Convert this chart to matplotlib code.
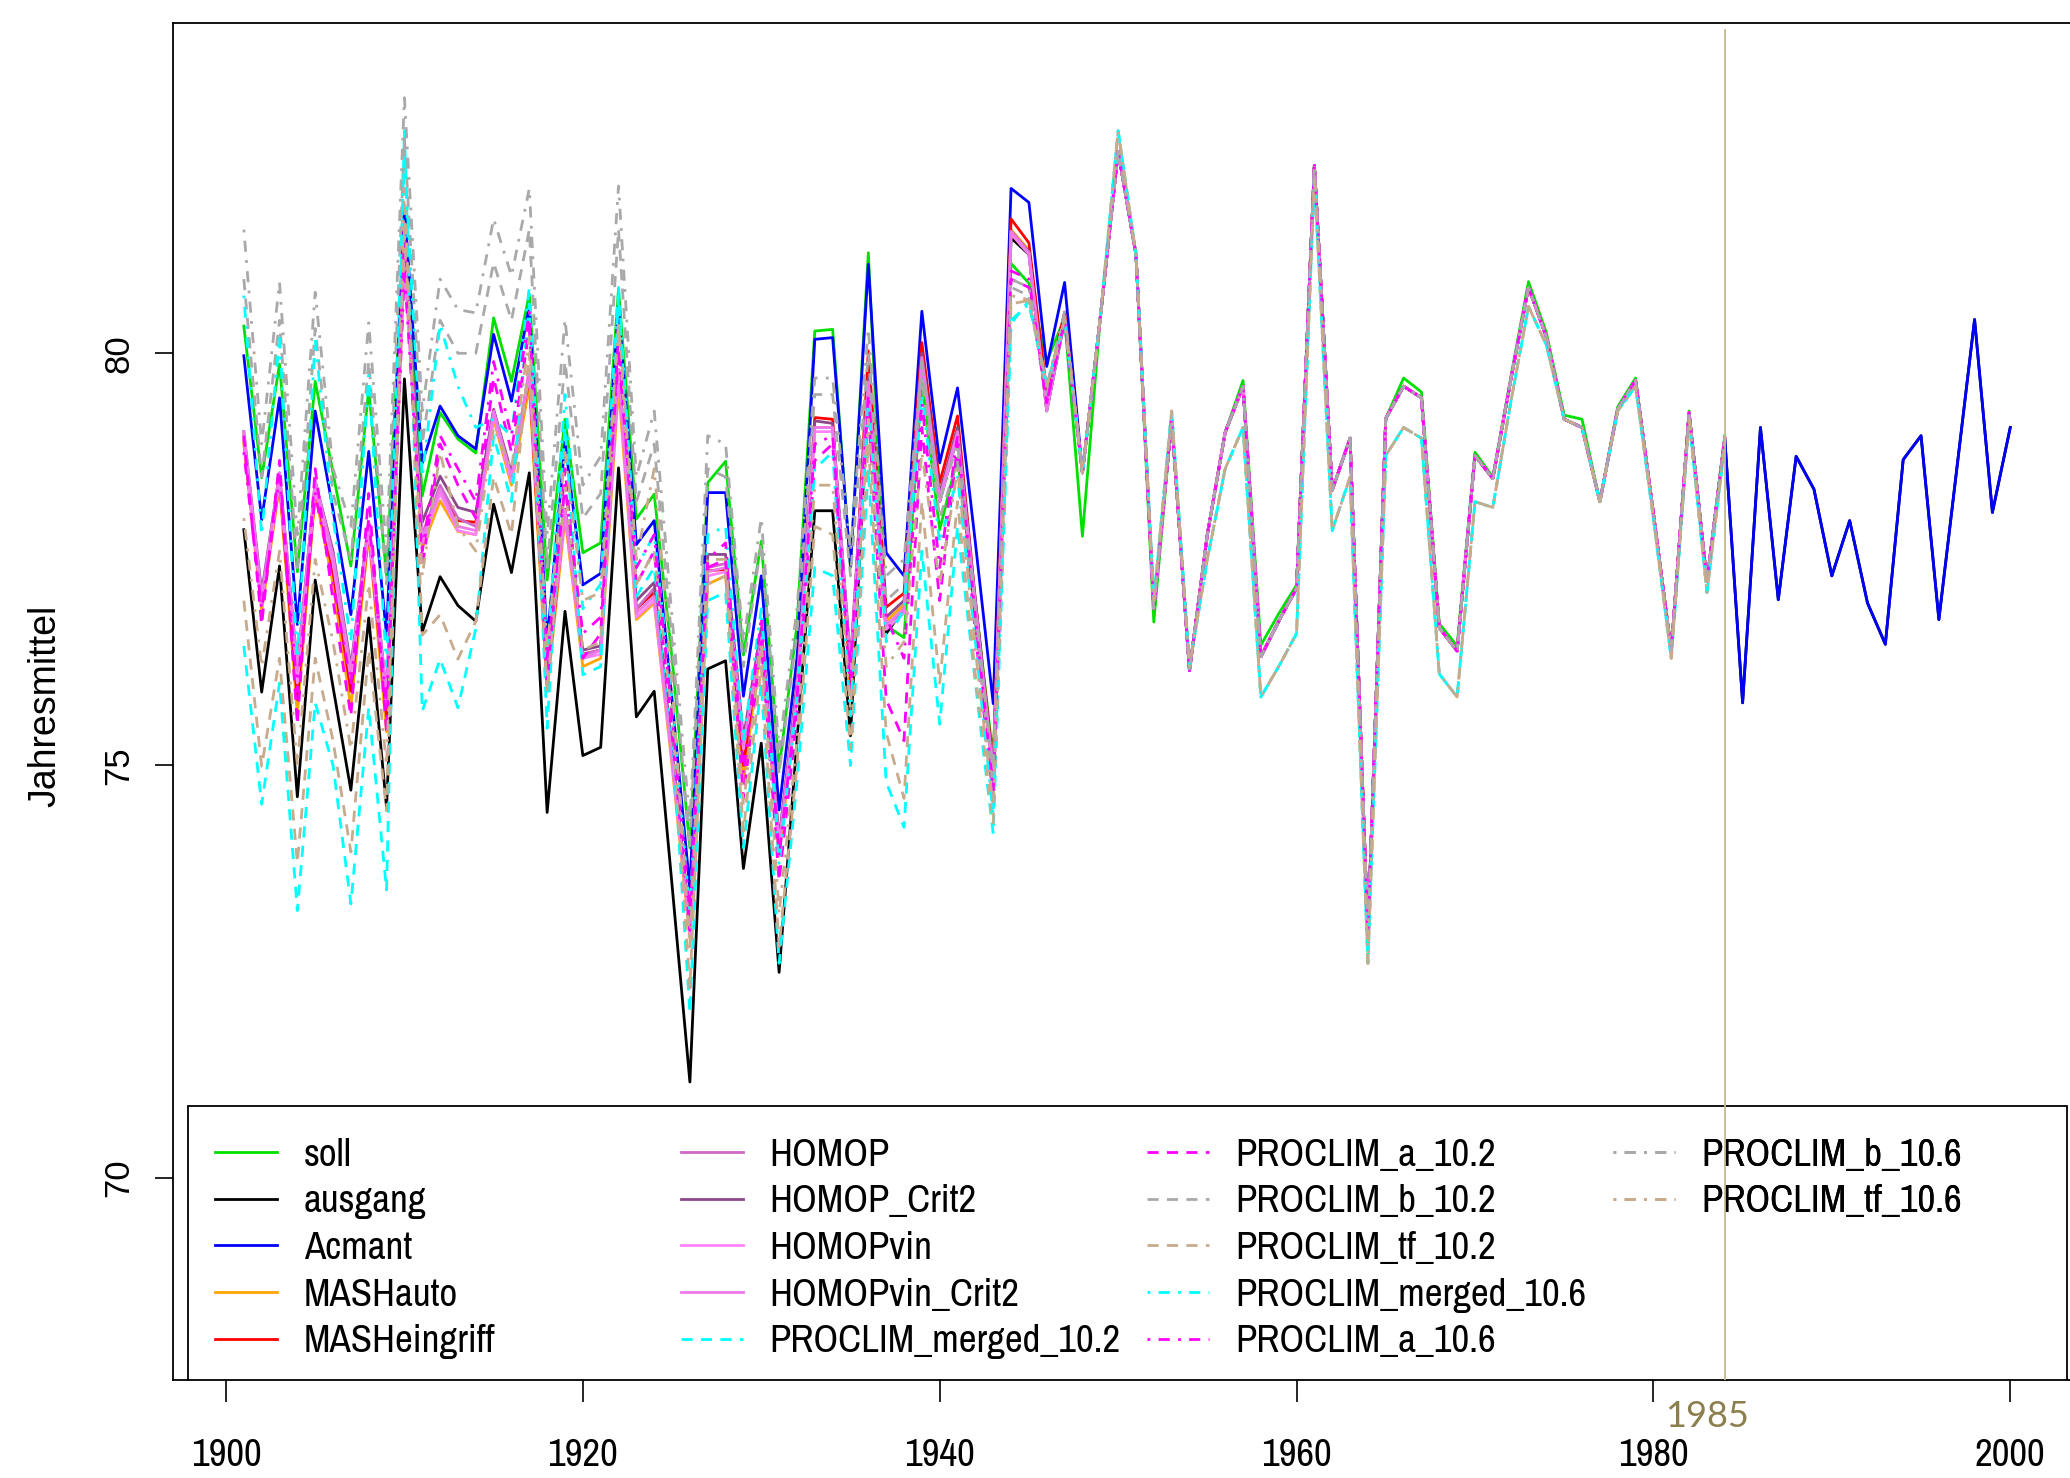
import matplotlib
matplotlib.use("Agg")
import matplotlib.pyplot as plt
from matplotlib.patches import Rectangle
from matplotlib.transforms import blended_transform_factory
from matplotlib import font_manager

# ------------------------------------------------------------------
# Jahresmittel 1901-2000: Ausgangsreihe, Sollreihe and homogenised series
# ------------------------------------------------------------------
years_early = list(range(1901, 1948))   # period where the methods disagree
years_late = list(range(1948, 1985))    # period where they nearly coincide
years_tail = list(range(1985, 2001))    # only ausgang / Acmant continue

soll_early = [80.33, 78.49, 79.87, 77.35, 79.66, 78.55, 77.42, 79.56, 77.30, 81.70,
              78.27, 79.28, 78.96, 78.79, 80.43, 79.66, 80.72, 77.25, 79.20, 77.58,
              77.70, 80.78, 77.99, 78.29, 76.30, 74.00, 78.43, 78.69, 76.34, 77.72,
              74.96, 76.70, 80.27, 80.29, 77.40, 81.22, 76.70, 76.55, 79.64, 77.86,
              78.73, 77.00, 75.08, 81.09, 80.85, 79.90, 80.43]
ausgang_early = [77.86, 75.89, 77.42, 74.62, 77.25, 75.95, 74.70, 76.79, 74.49, 79.69,
                 76.62, 77.29, 76.94, 76.75, 78.17, 77.34, 78.55, 74.43, 76.87, 75.12,
                 75.22, 78.61, 75.59, 75.90, 73.55, 71.16, 76.17, 76.27, 73.75, 75.27,
                 72.49, 75.30, 78.09, 78.09, 75.36, 79.60, 76.60, 76.90, 79.90, 78.20,
                 79.00, 76.80, 74.90, 81.40, 81.20, 79.30, 80.40]
acmant_early = [79.97, 77.98, 79.46, 76.71, 79.30, 78.10, 76.83, 78.81, 76.58, 81.79,
                78.67, 79.36, 79.00, 78.84, 80.23, 79.42, 80.57, 76.50, 78.92, 77.19,
                77.33, 80.57, 77.68, 77.97, 75.80, 73.50, 78.31, 78.31, 75.84, 77.30,
                74.46, 76.30, 80.17, 80.19, 77.42, 81.08, 77.58, 77.30, 80.51, 78.67,
                79.58, 77.70, 75.75, 82.00, 81.83, 79.84, 80.86]
mashauto_early = [78.90, 76.87, 78.40, 75.62, 78.30, 77.20, 75.70, 77.80, 75.41, 81.20,
                  77.64, 78.21, 77.84, 77.80, 79.20, 78.40, 79.60, 75.90, 78.00, 76.20,
                  76.30, 79.60, 76.77, 76.97, 75.00, 72.90, 77.20, 77.30, 74.80, 76.50,
                  73.90, 75.80, 79.10, 79.10, 75.90, 79.90, 76.75, 76.95, 80.00, 78.30,
                  79.10, 76.90, 74.90, 81.50, 81.25, 79.40, 80.45]
masheingriff_early = [78.95, 76.95, 78.45, 75.80, 78.35, 77.35, 75.90, 77.85, 75.60, 81.40,
                      77.70, 78.33, 77.97, 77.95, 79.30, 78.50, 79.72, 76.00, 78.10, 76.35,
                      76.40, 79.80, 76.90, 77.10, 75.10, 73.00, 77.36, 77.38, 75.00, 76.60,
                      74.00, 75.90, 79.22, 79.20, 76.00, 80.03, 76.92, 77.09, 80.13, 78.43,
                      79.24, 77.00, 75.00, 81.63, 81.34, 79.53, 80.50]
homop_early = [79.00, 77.00, 78.50, 76.10, 78.40, 77.50, 76.10, 77.90, 75.80, 81.20,
               77.80, 78.40, 78.00, 77.90, 79.30, 78.50, 79.80, 76.20, 78.10, 76.35,
               76.40, 79.80, 76.90, 77.15, 75.10, 73.00, 77.40, 77.45, 75.30, 76.60,
               74.10, 75.90, 79.10, 79.10, 76.20, 79.65, 76.70, 76.90, 79.95, 78.25,
               79.05, 76.95, 74.90, 81.48, 81.23, 79.32, 80.43]
homop_crit2_early = [79.05, 77.10, 78.55, 76.20, 78.45, 77.60, 76.20, 77.95, 75.85, 81.30,
                     77.95, 78.51, 78.13, 78.07, 79.32, 78.55, 79.75, 76.20, 78.11, 76.40,
                     76.45, 79.80, 77.00, 77.22, 75.20, 73.10, 77.56, 77.56, 75.33, 76.67,
                     74.10, 76.00, 79.18, 79.15, 76.25, 79.70, 76.80, 77.00, 80.00, 78.30,
                     79.10, 77.00, 74.95, 81.48, 81.23, 79.32, 80.43]
homopvin_early = [78.95, 76.95, 78.45, 76.00, 78.35, 77.45, 76.05, 77.85, 75.70, 81.10,
                  77.70, 78.30, 77.85, 77.80, 79.25, 78.45, 79.75, 76.10, 78.05, 76.30,
                  76.35, 79.75, 76.80, 77.00, 75.05, 72.95, 77.30, 77.35, 75.20, 76.50,
                  74.00, 75.85, 79.05, 79.05, 76.15, 79.60, 76.65, 76.85, 79.90, 78.20,
                  79.00, 76.90, 74.85, 81.45, 81.20, 79.30, 80.42]
homopvin_crit2_early = [79.05, 77.05, 78.55, 76.15, 78.45, 77.55, 76.15, 77.95, 75.85, 81.25,
                        77.75, 78.35, 77.90, 77.85, 79.30, 78.50, 79.80, 76.15, 78.10, 76.30,
                        76.40, 79.80, 76.85, 77.05, 75.10, 73.00, 77.35, 77.40, 75.25, 76.55,
                        74.05, 75.90, 79.10, 79.10, 76.20, 79.65, 76.70, 76.90, 79.95, 78.25,
                        79.05, 76.95, 74.90, 81.48, 81.22, 79.32, 80.43]
merged_102_early = [76.45, 74.53, 76.00, 73.24, 75.76, 75.00, 73.32, 75.70, 73.49, 82.70,
                    75.66, 76.29, 75.70, 76.66, 79.00, 78.20, 80.60, 75.45, 79.10, 76.10,
                    76.20, 80.70, 77.05, 77.40, 75.40, 72.00, 77.00, 77.10, 74.00, 76.00,
                    72.60, 74.80, 77.40, 77.30, 75.00, 78.60, 74.80, 74.25, 77.60, 75.50,
                    77.90, 76.00, 74.17, 80.36, 80.64, 79.60, 80.40]
a_102_early = [79.00, 76.71, 78.70, 75.50, 78.60, 77.00, 75.60, 78.30, 75.40, 81.60,
               77.40, 78.90, 78.40, 78.00, 79.70, 78.80, 80.30, 76.00, 78.60, 76.30,
               76.60, 80.20, 77.20, 77.60, 75.40, 73.00, 77.40, 77.50, 74.60, 76.50,
               73.60, 75.60, 78.70, 78.90, 75.90, 79.30, 75.80, 75.30, 79.10, 77.00,
               78.90, 76.60, 74.60, 80.90, 80.80, 79.40, 80.40]
b_102_early = [80.90, 78.50, 80.40, 77.40, 80.30, 78.30, 77.50, 79.90, 77.20, 82.60,
               78.90, 80.40, 80.00, 80.00, 81.10, 80.40, 81.50, 77.40, 79.90, 78.00,
               78.30, 81.50, 78.20, 78.90, 76.50, 74.00, 78.60, 78.50, 76.20, 77.70,
               74.90, 76.60, 79.50, 79.50, 77.30, 80.00, 77.00, 77.20, 79.70, 78.00,
               78.70, 76.70, 74.70, 80.80, 80.70, 79.50, 80.45]
tf_102_early = [77.00, 74.99, 76.30, 73.82, 76.30, 75.30, 73.95, 76.40, 74.45, 82.00,
                76.58, 76.83, 76.29, 76.75, 78.50, 77.80, 80.00, 75.90, 78.40, 76.40,
                76.50, 80.30, 77.20, 77.60, 75.60, 72.30, 77.20, 77.30, 74.20, 76.20,
                72.80, 75.00, 77.90, 77.80, 75.20, 78.90, 75.40, 74.60, 78.20, 76.00,
                78.20, 76.10, 74.30, 80.60, 80.64, 79.60, 80.40]
merged_106_early = [80.70, 77.80, 80.20, 76.30, 80.17, 78.00, 76.50, 79.73, 76.20, 82.40,
                    78.50, 80.35, 79.60, 79.10, 79.20, 79.00, 80.80, 76.30, 79.50, 76.90,
                    77.20, 80.80, 77.40, 77.80, 75.80, 73.20, 77.80, 77.90, 75.30, 76.90,
                    73.80, 75.80, 78.60, 78.80, 75.60, 79.40, 76.50, 76.90, 79.50, 77.70,
                    78.50, 76.50, 74.40, 80.40, 80.60, 79.60, 80.40]
a_106_early = [78.80, 76.90, 78.50, 75.90, 78.30, 77.20, 76.00, 78.00, 75.70, 81.00,
               77.60, 79.00, 78.60, 78.20, 79.90, 79.00, 80.50, 76.30, 78.40, 76.60,
               76.80, 80.00, 77.40, 77.80, 75.60, 73.20, 77.50, 77.70, 74.90, 76.80,
               73.90, 75.80, 78.90, 79.00, 76.20, 79.50, 76.80, 76.30, 79.40, 77.40,
               79.00, 76.80, 74.70, 81.00, 80.90, 79.40, 80.40]
b_106_early = [81.50, 78.90, 80.86, 77.80, 80.74, 78.60, 77.90, 80.37, 77.60, 83.10,
               79.30, 80.90, 80.53, 80.49, 81.63, 80.94, 82.00, 77.80, 80.41, 78.40,
               78.75, 82.03, 78.50, 79.30, 76.80, 74.30, 79.00, 78.90, 76.50, 78.00,
               75.20, 76.90, 79.70, 79.70, 77.60, 80.30, 77.30, 77.50, 79.90, 78.20,
               78.90, 76.90, 74.90, 80.90, 80.80, 79.60, 80.50]
tf_106_early = [78.00, 76.20, 77.60, 75.00, 77.50, 76.50, 75.20, 77.20, 75.00, 81.50,
                77.30, 78.80, 77.90, 77.60, 79.10, 78.60, 80.20, 76.40, 78.80, 77.00,
                77.10, 80.40, 77.50, 78.60, 76.00, 72.80, 77.50, 77.50, 74.50, 76.50,
                73.20, 75.30, 78.40, 78.40, 75.70, 79.20, 76.20, 76.50, 78.80, 77.20,
                78.60, 76.40, 74.50, 80.70, 80.65, 79.60, 80.40]

late_main = [78.55, 80.43, 82.45, 81.20, 76.90, 79.20, 76.15, 77.80, 79.04, 79.60,
             76.32, 76.75, 77.15, 82.28, 78.34, 78.97, 72.95, 79.21, 79.60, 79.46,
             76.67, 76.39, 78.76, 78.48, 79.67, 80.80, 80.20, 79.20, 79.10, 78.20,
             79.32, 79.67, 78.06, 76.39, 79.28, 77.23, 78.97]
late_soll = [77.78, 80.43, 82.45, 81.20, 76.74, 79.20, 76.15, 77.80, 79.04, 79.67,
             76.46, 76.84, 77.19, 82.28, 78.34, 78.97, 72.95, 79.21, 79.70, 79.53,
             76.72, 76.45, 78.80, 78.50, 79.70, 80.87, 80.25, 79.25, 79.20, 78.20,
             79.35, 79.70, 78.06, 76.39, 79.30, 77.23, 79.00]
late_low = [78.55, 80.43, 82.70, 81.20, 77.00, 79.30, 76.20, 77.50, 78.60, 79.10,
            75.83, 76.20, 76.60, 82.15, 77.85, 78.50, 72.60, 78.76, 79.10, 78.97,
            76.11, 75.83, 78.20, 78.13, 79.40, 80.57, 80.10, 79.20, 79.10, 78.20,
            79.30, 79.60, 78.00, 76.30, 79.20, 77.10, 78.90]
tail_obs = [75.76, 79.10, 77.01, 78.75, 78.35, 77.30, 77.97, 76.97, 76.47, 78.71,
            79.00, 76.77, 78.59, 80.41, 78.07, 79.10]

x_ticks = [1900, 1920, 1940, 1960, 1980, 2000]
y_ticks = [70, 75, 80]
split_year = 1984
split_label = "1985"

DASH = (0, (4, 3))
DOTDASH = (0, (1, 3, 4, 3))

# name, colour, line style, values (1901 onwards)
series = [
    ("soll", "#00e000", "-", soll_early + late_soll),
    ("ausgang", "#000000", "-", ausgang_early + late_main + tail_obs),
    ("Acmant", "#0000ff", "-", acmant_early + late_main + tail_obs),
    ("MASHauto", "#ffa500", "-", mashauto_early + late_main),
    ("MASHeingriff", "#ff0000", "-", masheingriff_early + late_main),
    ("HOMOP", "#cd69c9", "-", homop_early + late_main),
    ("HOMOP_Crit2", "#8b4789", "-", homop_crit2_early + late_main),
    ("HOMOPvin", "#ff83fa", "-", homopvin_early + late_main),
    ("HOMOPvin_Crit2", "#ee7ae9", "-", homopvin_crit2_early + late_main),
    ("PROCLIM_merged_10.2", "#00ffff", DASH, merged_102_early + late_low),
    ("PROCLIM_a_10.2", "#ff00ff", DASH, a_102_early + late_main),
    ("PROCLIM_b_10.2", "#a9a9a9", DASH, b_102_early + late_main),
    ("PROCLIM_tf_10.2", "#c8aa8c", DASH, tf_102_early + late_low),
    ("PROCLIM_merged_10.6", "#00ffff", DOTDASH, merged_106_early + late_low),
    ("PROCLIM_a_10.6", "#ff00ff", DOTDASH, a_106_early + late_main),
    ("PROCLIM_b_10.6", "#a9a9a9", DOTDASH, b_106_early + late_main),
    ("PROCLIM_tf_10.6", "#c8aa8c", DOTDASH, tf_106_early + late_low),
]

all_years = years_early + years_late + years_tail

# ------------------------------------------------------------------
regular = "Liberation Sans"
narrow = ["Archivo Narrow", "Liberation Sans"]

fig = plt.figure(figsize=(20.7, 14.78), dpi=100)
ax = fig.add_axes([0.08357, 0.06631, 0.9217, 0.9183])

lines = []
for name, color, ls, vals in series:
    (ln,) = ax.plot(all_years[:len(vals)], vals, color=color, linestyle=ls,
                    linewidth=2.0, label=name)
    lines.append(ln)

ax.set_xlim(1897.03, 2003.96)
ax.set_ylim(67.545, 84.01)
for sp in ax.spines.values():
    sp.set_linewidth(1.3)

ax.set_xticks(x_ticks)
ax.set_yticks(y_ticks)
ax.tick_params(axis="x", length=16, width=1.2, pad=26, labelsize=28)
ax.tick_params(axis="y", length=13, width=1.2, pad=14, labelsize=25, labelrotation=90)
for lab in ax.get_xticklabels():
    lab.set_fontfamily(narrow)
for lab in ax.get_yticklabels():
    lab.set_fontfamily(regular)
    lab.set_verticalalignment("center")

ax.set_ylabel("Jahresmittel", fontsize=27, fontfamily=regular)
ax.yaxis.set_label_coords(-0.0577, 0.4966)

# legend box along the bottom of the plot region
ax.add_patch(Rectangle((0.00786, 0.0), 0.9848, 0.2019, transform=ax.transAxes,
                       facecolor="white", edgecolor="black", linewidth=1.3, zorder=4))
col_x = [0.0220, 0.2662, 0.5105, 0.7547]
groups = [lines[0:5], lines[5:10], lines[10:15], lines[15:17]]
legend_font = font_manager.FontProperties(family=narrow, size=28)
for cx, grp in zip(col_x, groups):
    leg = ax.legend(handles=grp, loc="upper left", bbox_to_anchor=(cx, 0.1785),
                    frameon=False, borderpad=0, borderaxespad=0, handlelength=1.6,
                    handletextpad=0.68, labelspacing=0.30, prop=legend_font)
    leg.set_zorder(5)
    ax.add_artist(leg)

# marker of the end of the homogenisation period
ax.axvline(split_year, ymin=0, ymax=0.995, color="#c5b991", linewidth=1.3, zorder=10)
trans = blended_transform_factory(ax.transData, ax.transAxes)
ax.text(split_year - 1.0, -0.0272, split_label, transform=trans, ha="center", va="center",
        fontsize=26, fontfamily="Lato", color="#8c7f4e")

fig.savefig("out.png", dpi=100)
